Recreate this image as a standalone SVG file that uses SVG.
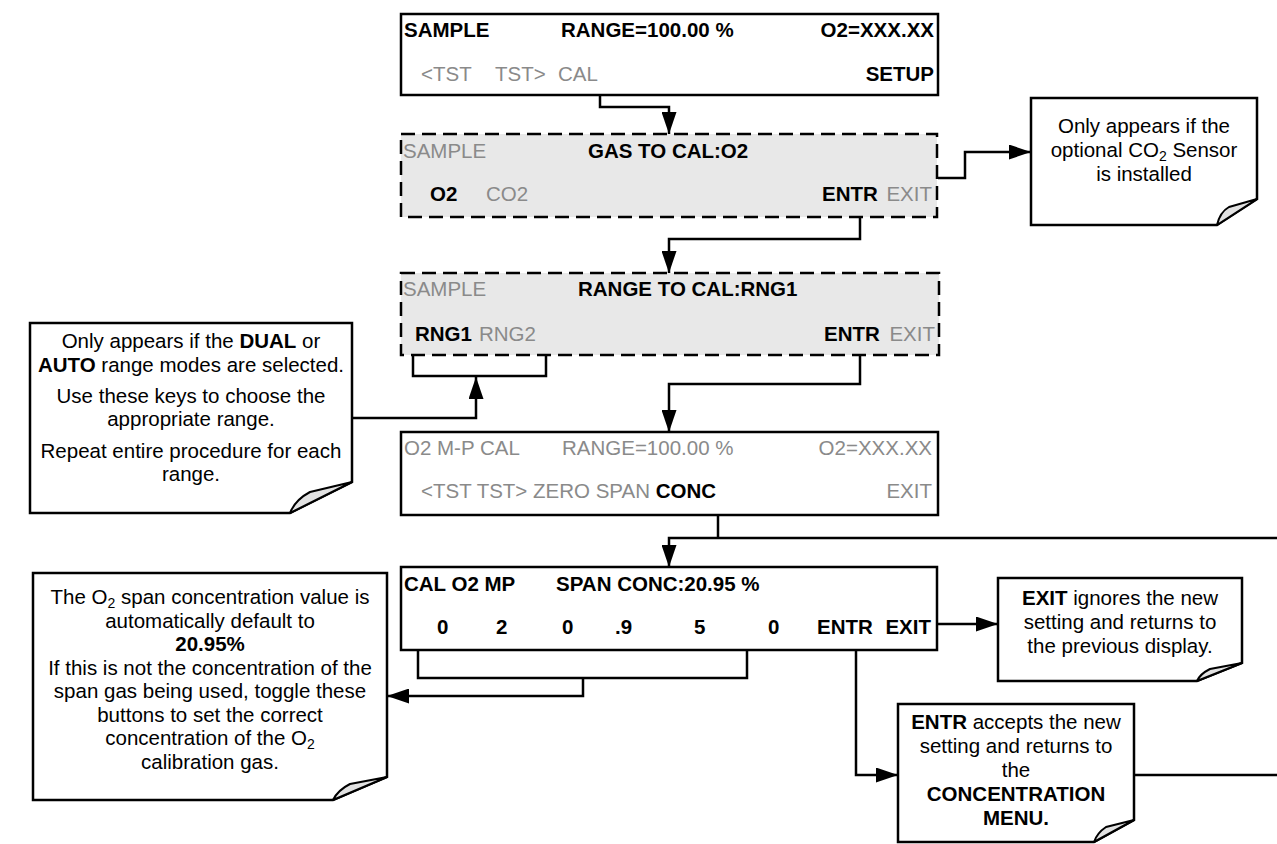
<svg xmlns="http://www.w3.org/2000/svg" width="1277" height="844" viewBox="0 0 1277 844">
<style>
text{font-family:"Liberation Sans",Arial,sans-serif}
.box{fill:#fff;stroke:#000;stroke-width:2.5}
.dbox{fill:#e8e8e8;stroke:#000;stroke-width:2.5;stroke-dasharray:14 7}
.note{fill:#fff;stroke:#000;stroke-width:2.5;stroke-linejoin:miter}
.flap{fill:#e2e2e2;stroke:#000;stroke-width:2;stroke-linejoin:round}
.w{fill:none;stroke:#000;stroke-width:2.5}
.t{font-size:20.5px}
.b{font-weight:bold;fill:#000}
.g{fill:#8a8a8a}
.n1{font-size:20.5px;text-anchor:middle;fill:#000}
.e{text-anchor:end}
</style>
<defs>
<marker id="ah" viewBox="0 0 22 15" refX="22" refY="7.5" markerWidth="22" markerHeight="15" markerUnits="userSpaceOnUse" orient="auto">
<path d="M0,0 L22,7.5 L0,15 Z" fill="#000"/>
</marker>
</defs>

<g id="connectors">
<path class="w" d="M600,95 V107 H669 V134" marker-end="url(#ah)"/>
<path class="w" d="M938,178 H965 V152 H1031" marker-end="url(#ah)"/>
<path class="w" d="M860,217 V239 H669 V273" marker-end="url(#ah)"/>
<path class="w" d="M413,326 V376 H546 V326"/>
<path class="w" d="M352,418 H476 V377" marker-end="url(#ah)"/>
<path class="w" d="M860,355 V384 H669 V432" marker-end="url(#ah)"/>
<path class="w" d="M718,515 V538"/>
<path class="w" d="M1277,538 H669 V567" marker-end="url(#ah)"/>
<path class="w" d="M418,622 V678 H747 V622"/>
<path class="w" d="M583,678 V696 H387" marker-end="url(#ah)"/>
<path class="w" d="M930,624 H998" marker-end="url(#ah)"/>
<path class="w" d="M856,650 V775 H898" marker-end="url(#ah)"/>
<path class="w" d="M1134,775 H1277"/>
</g>

<g id="node-sample">
<rect class="box" x="401" y="14" width="537" height="81"/>
<text class="t b" x="404" y="37">SAMPLE</text>
<text class="t b" x="561" y="37">RANGE=100.00 %</text>
<text class="t b e" x="934" y="37">O2=XXX.XX</text>
<text class="t g" x="421" y="81">&lt;TST</text>
<text class="t g" x="495" y="81">TST&gt;</text>
<text class="t g" x="558" y="81">CAL</text>
<text class="t b e" x="934" y="81">SETUP</text>
</g>

<g id="node-gas">
<rect class="dbox" x="401" y="134" width="536" height="83"/>
<text class="t g" x="403" y="158">SAMPLE</text>
<text class="t b" x="588" y="158">GAS TO CAL:O2</text>
<text class="t b" x="430" y="201">O2</text>
<text class="t g" x="486" y="201">CO2</text>
<text class="t b" x="822" y="201">ENTR</text>
<text class="t g e" x="932" y="201">EXIT</text>
</g>

<g id="node-range">
<rect class="dbox" x="401" y="273" width="538" height="82"/>
<text class="t g" x="403" y="296">SAMPLE</text>
<text class="t b" x="578" y="296">RANGE TO CAL:RNG1</text>
<text class="t b" x="415" y="341">RNG1</text>
<text class="t g" x="479" y="341">RNG2</text>
<text class="t b" x="824" y="341">ENTR</text>
<text class="t g e" x="935" y="341">EXIT</text>
</g>

<g id="node-mpcal">
<rect class="box" x="401" y="432" width="537" height="83"/>
<text class="t g" x="404" y="455">O2 M-P CAL</text>
<text class="t g" x="562" y="455">RANGE=100.00 %</text>
<text class="t g e" x="932" y="455">O2=XXX.XX</text>
<text class="t" x="421" y="498"><tspan class="g">&lt;TST TST&gt; ZERO SPAN </tspan><tspan class="b">CONC</tspan></text>
<text class="t g e" x="932" y="498">EXIT</text>
</g>

<g id="node-span">
<rect class="box" x="401" y="567" width="536" height="83"/>
<text class="t b" x="404" y="591">CAL O2 MP</text>
<text class="t b" x="556" y="591">SPAN CONC:20.95 %</text>
<text class="t b" x="437" y="634">0</text>
<text class="t b" x="496" y="634">2</text>
<text class="t b" x="562" y="634">0</text>
<text class="t b" x="615" y="634">.9</text>
<text class="t b" x="694" y="634">5</text>
<text class="t b" x="768" y="634">0</text>
<text class="t b" x="817" y="634">ENTR</text>
<text class="t b e" x="931" y="634">EXIT</text>
</g>

<g id="note-co2">
<path class="note" d="M1031,98 H1257 V199 L1217,225 H1031 Z"/>
<path class="flap" d="M1257,199 L1229,207 Q1220,212 1217,225 Z"/>
<text class="n1" x="1144" y="133">Only appears if the</text>
<text class="n1" x="1144" y="157">optional CO<tspan font-size="14" dy="4">2</tspan><tspan dy="-4"> Sensor</tspan></text>
<text class="n1" x="1144" y="181">is installed</text>
</g>

<g id="note-range">
<path class="note" d="M30,323 H352 V482 L290,513 H30 Z"/>
<path class="flap" d="M352,482 L310,492 Q295,500 290,513 Z"/>
<text class="n1" x="191" y="348">Only appears if the <tspan font-weight="bold">DUAL</tspan> or</text>
<text class="n1" x="191" y="372"><tspan font-weight="bold">AUTO</tspan> range modes are selected.</text>
<text class="n1" x="191" y="403">Use these keys to choose the</text>
<text class="n1" x="191" y="426">appropriate range.</text>
<text class="n1" x="191" y="458">Repeat entire procedure for each</text>
<text class="n1" x="191" y="481">range.</text>
</g>

<g id="note-conc">
<path class="note" d="M33,573 H387 V777 L333,800 H33 Z"/>
<path class="flap" d="M387,777 L350,784 Q338,790 333,800 Z"/>
<text class="n1" x="210" y="604">The O<tspan font-size="14" dy="4">2</tspan><tspan dy="-4"> span concentration value is</tspan></text>
<text class="n1" x="210" y="628">automatically default to</text>
<text class="n1" x="210" y="651" font-weight="bold">20.95%</text>
<text class="n1" x="210" y="675">If this is not the concentration of the</text>
<text class="n1" x="210" y="698">span gas being used, toggle these</text>
<text class="n1" x="210" y="722">buttons to set the correct</text>
<text class="n1" x="210" y="745">concentration of the O<tspan font-size="14" dy="4">2</tspan></text>
<text class="n1" x="210" y="769">calibration gas.</text>
</g>

<g id="note-exit">
<path class="note" d="M998,578 H1242 V663 L1197,681 H998 Z"/>
<path class="flap" d="M1242,663 L1210,669 Q1200,674 1197,681 Z"/>
<text class="n1" x="1120" y="605"><tspan font-weight="bold">EXIT</tspan> ignores the new</text>
<text class="n1" x="1120" y="629">setting and returns to</text>
<text class="n1" x="1120" y="653">the previous display.</text>
</g>

<g id="note-entr">
<path class="note" d="M898,704 H1134 V820 L1094,842 H898 Z"/>
<path class="flap" d="M1134,820 L1106,827 Q1097,833 1094,842 Z"/>
<text class="n1" x="1016" y="729"><tspan font-weight="bold">ENTR</tspan> accepts the new</text>
<text class="n1" x="1016" y="753">setting and returns to</text>
<text class="n1" x="1016" y="777">the</text>
<text class="n1" x="1016" y="801" font-weight="bold">CONCENTRATION</text>
<text class="n1" x="1016" y="825" font-weight="bold">MENU.</text>
</g>
</svg>
